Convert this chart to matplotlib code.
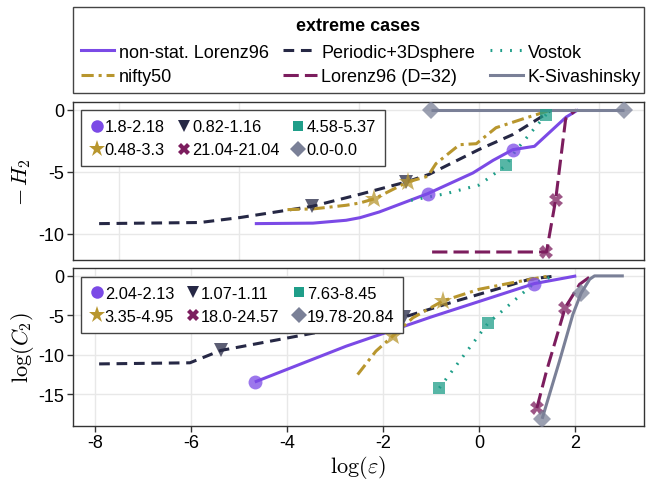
import matplotlib
matplotlib.use("Agg")
import matplotlib.pyplot as plt
from matplotlib.lines import Line2D
from matplotlib.patches import Rectangle

plt.rcParams["font.family"] = ["Liberation Sans", "DejaVu Sans"]
plt.rcParams["mathtext.fontset"] = "cm"
plt.rcParams["axes.unicode_minus"] = False

# colours per case
C_NONSTAT = "#7b4ae6"
C_PERIODIC = "#262845"
C_VOSTOK = "#1f9e89"
C_NIFTY = "#b8962e"
C_L96 = "#7c1d5e"
C_KS = "#7a8097"

case_names = ["non-stat. Lorenz96", "Periodic+3Dsphere", "Vostok",
              "nifty50", "Lorenz96 (D=32)", "K-Sivashinsky"]

# ---- upper panel: -H2 vs log(eps)
h_nonstat_x = [-4.67, -3.46, -2.77, -2.48, -2.08, -1.07, -0.13, 0.29, 0.70, 1.15, 1.81, 2.06]
h_nonstat_y = [-9.19, -9.15, -8.92, -8.71, -8.25, -6.77, -5.10, -4.08, -3.22, -2.95, -0.59, 0.0]
h_nonstat_mx = [-1.07, 0.70]
h_nonstat_my = [-6.77, -3.22]

h_periodic_x = [-7.91, -5.81, -4.98, -3.47, -2.48, -1.52, -1.04, 0.0, 0.70, 1.40, 1.47]
h_periodic_y = [-9.19, -9.10, -8.70, -7.79, -6.82, -5.83, -5.21, -3.20, -2.00, -0.32, -0.10]
h_periodic_mx = [-3.47, -1.52]
h_periodic_my = [-7.79, -5.83]

h_vostok_x = [-1.42, -0.69, 0.0, 0.56, 0.76, 1.38, 1.45]
h_vostok_y = [-7.31, -6.77, -6.07, -4.48, -3.30, -0.45, -0.10]
h_vostok_mx = [0.56, 1.38]
h_vostok_my = [-4.48, -0.45]

h_nifty_x = [-3.99, -3.45, -2.77, -2.48, -2.18, -1.49, -1.07, -0.90, -0.41, -0.06, 0.35, 0.98, 1.43]
h_nifty_y = [-8.06, -8.00, -7.71, -7.52, -7.18, -5.83, -5.37, -4.35, -2.82, -2.74, -1.45, -0.65, -0.10]
h_nifty_mx = [-2.18, -1.49]
h_nifty_my = [-7.18, -5.83]

h_l96_x = [-0.98, 1.40, 1.59, 1.80, 2.02]
h_l96_y = [-11.48, -11.48, -7.31, -0.73, 0.0]
h_l96_mx = [1.40, 1.59]
h_l96_my = [-11.48, -7.31]

h_ks_x = [-1.0, 3.01]
h_ks_y = [0.0, 0.0]
h_ks_mx = [-1.0, 3.01]
h_ks_my = [0.0, 0.0]

h_labels = ["1.8-2.18", "0.82-1.16", "4.58-5.37", "0.48-3.3", "21.04-21.04", "0.0-0.0"]

# ---- lower panel: log(C2) vs log(eps)
c_nonstat_x = [-4.67, -2.77, -1.0, 1.15, 2.02]
c_nonstat_y = [-13.43, -8.90, -5.20, -0.97, 0.0]
c_nonstat_mx = [-4.67, 1.15]
c_nonstat_my = [-13.43, -0.97]

c_periodic_x = [-7.91, -6.02, -5.38, -3.31, -1.56, -0.48, 0.35, 1.05, 1.60]
c_periodic_y = [-11.14, -11.00, -9.44, -7.08, -5.21, -3.18, -1.70, -0.42, 0.0]
c_periodic_mx = [-5.38, -1.56]
c_periodic_my = [-9.44, -5.21]

c_vostok_x = [-0.83, 0.18, 1.15, 1.56]
c_vostok_y = [-14.19, -6.01, -0.90, 0.0]
c_vostok_mx = [-0.83, 0.18]
c_vostok_my = [-14.19, -6.01]

c_nifty_x = [-2.53, -2.15, -1.80, -1.38, -0.76, 0.0, 0.70, 1.46]
c_nifty_y = [-12.49, -9.53, -7.62, -5.30, -3.18, -1.69, -0.85, 0.0]
c_nifty_mx = [-1.80, -0.76]
c_nifty_my = [-7.62, -3.18]

c_l96_x = [1.20, 1.40, 1.79, 2.09, 2.33]
c_l96_y = [-16.73, -12.07, -4.02, -1.06, 0.0]
c_l96_mx = [1.20, 1.79]
c_l96_my = [-16.73, -4.02]

c_ks_x = [1.31, 1.67, 1.95, 2.12, 2.30, 2.40, 3.01]
c_ks_y = [-18.09, -10.80, -4.87, -2.20, -0.42, 0.0, 0.0]
c_ks_mx = [1.31, 2.12]
c_ks_my = [-18.09, -2.20]

c_labels = ["2.04-2.13", "1.07-1.11", "7.63-8.45", "3.35-4.95", "18.0-24.57", "19.78-20.84"]

x_ticks = [-8, -6, -4, -2, 0, 2]
x_grid_top = [-7.5, -5.0, -2.5, 0.0, 2.5]
h_yticks = [0, -5, -10]
c_yticks = [0, -5, -10, -15]

colors = [C_NONSTAT, C_PERIODIC, C_VOSTOK, C_NIFTY, C_L96, C_KS]
styles = ["-", (0, (3.5, 2.2)), (0, (0.6, 2.6)), (0, (4, 1.6, 1, 1.6)), (0, (5, 2)), "-"]
markers = ["o", "v", "s", "*", "X", "D"]
msizes = [10, 10, 8.5, 14, 10, 9]

W, H = 646, 485
fig = plt.figure(figsize=(W / 100, H / 100), dpi=100)
ax1 = fig.add_axes([72.7 / W, 1 - 261.3 / H, 571.3 / W, 158.6 / H])
ax2 = fig.add_axes([72.7 / W, 1 - 427 / H, 571.3 / W, 158 / H])


def draw_panel(ax, series, labels):
    for (x, y, mx, my), col, ls, mk, ms in zip(series, colors, styles, markers, msizes):
        ax.plot(x, y, color=col, ls=ls, lw=2.2, zorder=3, solid_capstyle="butt")
        ax.plot(mx, my, ls="none", marker=mk, ms=ms, color=col, alpha=0.75,
                markeredgewidth=0, zorder=4)
    handles = [Line2D([], [], ls="none", marker=mk, ms=ms * 0.9, color=col, markeredgewidth=0)
               for col, mk, ms in zip(colors, markers, msizes)]
    order = [0, 3, 1, 4, 2, 5]
    leg = ax.legend([handles[i] for i in order], [labels[i] for i in order],
                    ncol=3, loc="upper left", bbox_to_anchor=(0.0145, 0.946),
                    borderaxespad=0, fontsize=11.8, handlelength=0.8, handletextpad=0.1,
                    columnspacing=0.75, labelspacing=0.5, borderpad=0.55,
                    fancybox=False, framealpha=1, edgecolor="#444444")
    leg.get_frame().set_linewidth(1.0)
    leg.set_zorder(5)
    ax.set_xlim(-8.46, 3.43)
    ax.grid(True, color="#e8e8e8", lw=1, zorder=0)
    ax.set_axisbelow(True)
    for sp in ax.spines.values():
        sp.set_color("#333333")
        sp.set_linewidth(1.0)
    ax.tick_params(labelsize=13, length=4, width=1, color="#333333", pad=2)


draw_panel(ax1, [(h_nonstat_x, h_nonstat_y, h_nonstat_mx, h_nonstat_my),
                 (h_periodic_x, h_periodic_y, h_periodic_mx, h_periodic_my),
                 (h_vostok_x, h_vostok_y, h_vostok_mx, h_vostok_my),
                 (h_nifty_x, h_nifty_y, h_nifty_mx, h_nifty_my),
                 (h_l96_x, h_l96_y, h_l96_mx, h_l96_my),
                 (h_ks_x, h_ks_y, h_ks_mx, h_ks_my)], h_labels)
draw_panel(ax2, [(c_nonstat_x, c_nonstat_y, c_nonstat_mx, c_nonstat_my),
                 (c_periodic_x, c_periodic_y, c_periodic_mx, c_periodic_my),
                 (c_vostok_x, c_vostok_y, c_vostok_mx, c_vostok_my),
                 (c_nifty_x, c_nifty_y, c_nifty_mx, c_nifty_my),
                 (c_l96_x, c_l96_y, c_l96_mx, c_l96_my),
                 (c_ks_x, c_ks_y, c_ks_mx, c_ks_my)], c_labels)

ax1.set_ylim(-12.15, 0.65)
ax1.set_yticks(h_yticks)
ax1.set_xticks(x_grid_top)
ax1.tick_params(axis="x", length=0, labelbottom=False)

ax2.set_ylim(-19.0, 1.0)
ax2.set_yticks(c_yticks)
ax2.set_xticks(x_ticks)

fig.text(22 / W, 1 - 182 / H, r"$-\,H_2$", rotation=90, fontsize=16, ha="center", va="center")
fig.text(22 / W, 1 - 348 / H, r"$\log(C_2)$", rotation=90, fontsize=16, ha="center", va="center")
fig.text(358 / W, 1 - 468 / H, r"$\log(\varepsilon)$", fontsize=16, ha="center", va="center")

# top legend box
fig.patches.append(Rectangle((72.7 / W, 1 - 94.3 / H), 571 / W, 86 / H, transform=fig.transFigure,
                             fill=True, facecolor="white", edgecolor="#444444", lw=1.0))
fig.text(358 / W, 1 - 26.7 / H, "extreme cases", fontsize=13, fontweight="bold",
         ha="center", va="center")
top_handles = [Line2D([], [], color=col, ls=ls, lw=2.2) for col, ls in zip(colors, styles)]
order = [0, 3, 1, 4, 2, 5]
fig.legend([top_handles[i] for i in order], [case_names[i] for i in order], ncol=3,
           loc="upper left", bbox_to_anchor=(81 / W, 1 - 44.5 / H), borderaxespad=0,
           frameon=False, fontsize=13, handlelength=1.85, handletextpad=0.25,
           columnspacing=0.8, labelspacing=0.42, borderpad=0)

fig.savefig("out.png", dpi=100)
